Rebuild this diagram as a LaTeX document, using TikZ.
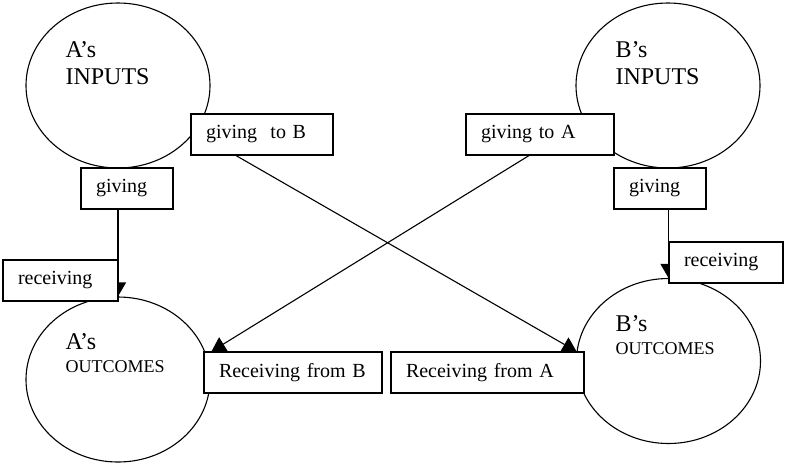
\documentclass[tikz,border=0pt]{standalone}
\usepackage{fontspec}
\setmainfont{Liberation Serif}
\usetikzlibrary{shapes.geometric,arrows.meta,backgrounds}
\begin{document}
\begin{tikzpicture}[x=1pt,y=-1pt,
  every path/.style={line width=1.1pt},
  oval/.style={draw,ellipse,line width=1.1pt,minimum width=184pt,minimum height=165pt,inner sep=0pt},
  bigtxt/.style={anchor=base west,inner sep=0pt,font=\fontsize{24}{28}\selectfont},
  smalltxt/.style={anchor=base west,inner sep=0pt,font=\fontsize{18}{22}\selectfont},
  box/.style={draw,fill=white,line width=1.1pt,rectangle,minimum height=41pt,inner xsep=15pt,inner ysep=0pt,align=left,font=\fontsize{20}{24}\selectfont},
  arr/.style={-{Triangle[length=14pt,width=16pt]},line width=1.1pt}]
\useasboundingbox (0,0) rectangle (787,467);
% ellipses
\node[oval] (iA) at (118,85.5) {};
\node[oval] (iB) at (668,85.5) {};
\node[oval] (oA) at (118,379.5) {};
\node[oval] (oB) at (668.5,361) {};
% ellipse texts
\node[bigtxt] (tiA1) at (65,57) {A’s};
\node[bigtxt] (tiA2) at (65,84) {INPUTS};
\node[bigtxt] (tiB1) at (615,57) {B’s};
\node[bigtxt] (tiB2) at (615,84) {INPUTS};
\node[bigtxt] (toA1) at (65,349) {A’s};
\node[smalltxt] (toA2) at (65,372) {OUTCOMES};
\node[bigtxt] (toB1) at (615,331) {B’s};
\node[smalltxt] (toB2) at (615,354) {OUTCOMES};
% boxes
\node[box,text width=112pt] (gtB) at (262,134.5) {\mbox{giving~ to B}};
\node[box,text width=62pt] (gA) at (127,188.5) {\mbox{giving}};
\node[box,text width=85pt] (rA) at (60.5,280.5) {\mbox{receiving}};
\node[box,text width=148pt] (rfB) at (293,372.5) {\mbox{Receiving from B}};
\node[box,text width=118pt] (gtA) at (540,134.5) {\mbox{giving to A}};
\node[box,text width=62pt] (gB) at (660,188.5) {\mbox{giving}};
\node[box,text width=84pt] (rB) at (726,262.5) {\mbox{receiving}};
\node[box,text width=163pt] (rfA) at (487.5,372.5) {\mbox{Receiving from A}};
% connectors
\begin{pgfonlayer}{background}
\draw[arr] (gA.south -| oA.north) -- (oA.north);
\draw[arr] (gB.south -| oB.north) -- (oB.north);
\draw[arr] ([xshift=-26pt]gtB.south) -- ([xshift=-8pt]rfA.north east);
\draw[arr] ([xshift=-11pt]gtA.south) -- ([xshift=8pt]rfB.north west);
\end{pgfonlayer}
\end{tikzpicture}
\end{document}
